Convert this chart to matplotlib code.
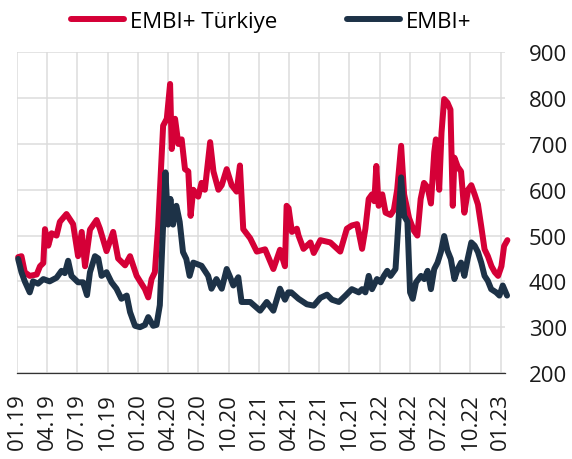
import matplotlib.pyplot as plt
import pandas as pd

TR_DATES = [
    "2019-01-04", "2019-01-14", "2019-01-24", "2019-02-08", "2019-03-01", "2019-03-11",
    "2019-03-21", "2019-03-26", "2019-04-05", "2019-04-15", "2019-04-30", "2019-05-10",
    "2019-05-30", "2019-06-19", "2019-07-04", "2019-07-15", "2019-07-25", "2019-08-09",
    "2019-08-29", "2019-09-08", "2019-09-28", "2019-10-18", "2019-11-02", "2019-11-23",
    "2019-12-08", "2019-12-28", "2020-01-22", "2020-02-01", "2020-02-11", "2020-02-21",
    "2020-03-02", "2020-03-17", "2020-03-28", "2020-04-07", "2020-04-12", "2020-04-22",
    "2020-05-02", "2020-05-12", "2020-05-22", "2020-06-01", "2020-06-08", "2020-06-16",
    "2020-07-01", "2020-07-11", "2020-07-21", "2020-08-06", "2020-08-16", "2020-08-31",
    "2020-09-10", "2020-09-25", "2020-10-10", "2020-10-25", "2020-11-04", "2020-11-14",
    "2020-12-05", "2020-12-25", "2021-01-19", "2021-02-13", "2021-03-05", "2021-03-20",
    "2021-03-25", "2021-03-31", "2021-04-10", "2021-04-25", "2021-04-30", "2021-05-15",
    "2021-06-05", "2021-06-15", "2021-07-05", "2021-08-04", "2021-09-03", "2021-09-23",
    "2021-10-08", "2021-10-24", "2021-11-08", "2021-11-18", "2021-11-28", "2021-12-08",
    "2021-12-15", "2021-12-21", "2021-12-28", "2022-01-08", "2022-01-18", "2022-02-02",
    "2022-02-12", "2022-02-22", "2022-03-06", "2022-03-15", "2022-03-30", "2022-04-14",
    "2022-04-24", "2022-05-04", "2022-05-14", "2022-05-25", "2022-06-04", "2022-06-14",
    "2022-06-19", "2022-06-29", "2022-07-06", "2022-07-14", "2022-07-24", "2022-08-02",
    "2022-08-09", "2022-08-14", "2022-08-24", "2022-09-03", "2022-09-13", "2022-09-24",
    "2022-10-04", "2022-10-14", "2022-10-24", "2022-11-03", "2022-11-13", "2022-11-23",
    "2022-12-04", "2022-12-14", "2022-12-24", "2023-01-03", "2023-01-11", "2023-01-21",
]
TR_VALUES = [
    453, 455, 420, 412, 415, 433,
    440, 514, 478, 505, 500, 530,
    547, 525, 455, 508, 433, 513,
    534, 515, 466, 508, 450, 435,
    455, 412, 383, 365, 405, 420,
    521, 740, 755, 831, 689, 755,
    700, 710, 645, 640, 543, 600,
    585, 615, 600, 704, 640, 600,
    610, 645, 610, 596, 653, 514,
    494, 465, 470, 427, 469, 433,
    565, 560, 508, 515, 500, 471,
    485, 462, 490, 485, 465, 515,
    522, 525, 471, 515, 580, 590,
    575, 652, 565, 590, 550, 545,
    556, 600, 696, 590, 538, 510,
    500, 580, 615, 605, 570, 682,
    710, 600, 725, 798, 790, 775,
    565, 670, 650, 640, 550, 600,
    610, 590, 568, 520, 470, 455,
    433, 420, 412, 433, 477, 490,
]

EMBI_DATES = [
    "2019-01-04", "2019-01-14", "2019-01-24", "2019-02-08", "2019-02-18", "2019-03-05",
    "2019-03-21", "2019-04-09", "2019-04-30", "2019-05-15", "2019-05-25", "2019-06-04",
    "2019-06-14", "2019-07-04", "2019-07-19", "2019-07-31", "2019-08-09", "2019-08-24",
    "2019-09-03", "2019-09-13", "2019-09-28", "2019-10-13", "2019-10-28", "2019-11-12",
    "2019-11-28", "2019-12-08", "2019-12-23", "2020-01-07", "2020-01-22", "2020-02-01",
    "2020-02-16", "2020-02-26", "2020-03-07", "2020-03-17", "2020-03-24", "2020-04-01",
    "2020-04-08", "2020-04-16", "2020-04-26", "2020-05-06", "2020-05-16", "2020-05-26",
    "2020-06-05", "2020-06-16", "2020-07-11", "2020-07-31", "2020-08-10", "2020-08-25",
    "2020-09-10", "2020-09-25", "2020-10-05", "2020-10-15", "2020-10-30", "2020-11-09",
    "2020-12-05", "2021-01-04", "2021-01-24", "2021-02-13", "2021-03-05", "2021-03-20",
    "2021-03-30", "2021-04-08", "2021-04-30", "2021-05-25", "2021-06-15", "2021-07-05",
    "2021-07-25", "2021-08-09", "2021-08-30", "2021-09-19", "2021-10-08", "2021-10-29",
    "2021-11-08", "2021-11-18", "2021-11-28", "2021-12-08", "2021-12-23", "2022-01-03",
    "2022-01-13", "2022-01-23", "2022-02-02", "2022-02-17", "2022-02-24", "2022-03-06",
    "2022-03-15", "2022-03-25", "2022-04-02", "2022-04-10", "2022-04-20", "2022-05-05",
    "2022-05-15", "2022-05-25", "2022-06-04", "2022-06-14", "2022-06-24", "2022-07-04",
    "2022-07-14", "2022-07-24", "2022-08-03", "2022-08-14", "2022-08-24", "2022-09-03",
    "2022-09-13", "2022-09-23", "2022-10-04", "2022-10-14", "2022-10-24", "2022-11-03",
    "2022-11-13", "2022-11-23", "2022-12-03", "2022-12-18", "2022-12-28", "2023-01-07",
    "2023-01-20",
]
EMBI_VALUES = [
    449, 420, 400, 376, 400, 395,
    405, 400, 408, 423, 418, 445,
    412, 398, 398, 370, 420, 455,
    450, 412, 420, 398, 384, 362,
    369, 333, 303, 300, 305, 322,
    303, 305, 348, 524, 638, 524,
    580, 524, 565, 530, 464, 449,
    412, 441, 434, 412, 384, 405,
    384, 427, 410, 391, 409, 355,
    355, 336, 355, 336, 384, 360,
    376, 376, 362, 350, 347, 364,
    371, 360, 355, 369, 383, 376,
    383, 376, 412, 383, 405, 398,
    412, 423, 412, 427, 508, 627,
    543, 530, 376, 362, 398, 412,
    405, 423, 383, 427, 441, 464,
    499, 467, 449, 405, 427, 441,
    412, 449, 485, 478, 464, 441,
    412, 401, 383, 376, 369, 391,
    369,
]

TICK_DATES = pd.date_range("2019-01-01", "2023-01-01", freq="QS")
TICK_LABELS = [d.strftime("%m.%y") for d in TICK_DATES]
Y_TICKS = [200, 300, 400, 500, 600, 700, 800, 900]

RED = "#d50037"
NAVY = "#1d3247"

if __name__ == "__main__":
    plt.rcParams["font.family"] = ["Open Sans", "DejaVu Sans"]

    fig = plt.figure(figsize=(5.72, 4.6), dpi=100)
    ax = fig.add_axes([0.030, 0.187, 0.853, 0.697])

    ax.plot(pd.to_datetime(TR_DATES), TR_VALUES, color=RED, lw=4.3,
            solid_joinstyle="round", solid_capstyle="round", label="EMBI+ Türkiye", zorder=3)
    ax.plot(pd.to_datetime(EMBI_DATES), EMBI_VALUES, color=NAVY, lw=4.3,
            solid_joinstyle="round", solid_capstyle="round", label="EMBI+", zorder=4)

    ax.set_ylim(200, 900)
    ax.set_yticks(Y_TICKS)
    ax.set_xlim(pd.Timestamp("2019-01-01"), pd.Timestamp("2023-01-14"))
    ax.set_xticks(TICK_DATES)
    ax.set_xticklabels(TICK_LABELS, rotation=90)

    ax.grid(True, color="#dcdcdc", linewidth=1.1)
    ax.set_axisbelow(True)
    for side in ["top", "left", "right"]:
        ax.spines[side].set_visible(False)
    ax.spines["bottom"].set_color("#333333")
    ax.spines["bottom"].set_linewidth(0.9)
    ax.spines["bottom"].set_zorder(2)

    ax.yaxis.tick_right()
    ax.tick_params(axis="y", length=0, pad=17, labelsize=16, colors="#1a1a1a")
    ax.tick_params(axis="x", length=0, pad=14, labelsize=16, colors="#1a1a1a")

    for line in ax.lines:
        line.set_clip_on(False)

    leg = fig.legend(loc="center", bbox_to_anchor=(0.474, 0.952), ncol=2, frameon=False,
                     fontsize=16, handlelength=2.4, handletextpad=0.25, columnspacing=3.15)
    for h in leg.get_lines():
        h.set_linewidth(4.3)
        h.set_solid_capstyle("round")

    fig.savefig("out.png", dpi=100)
    plt.close(fig)
